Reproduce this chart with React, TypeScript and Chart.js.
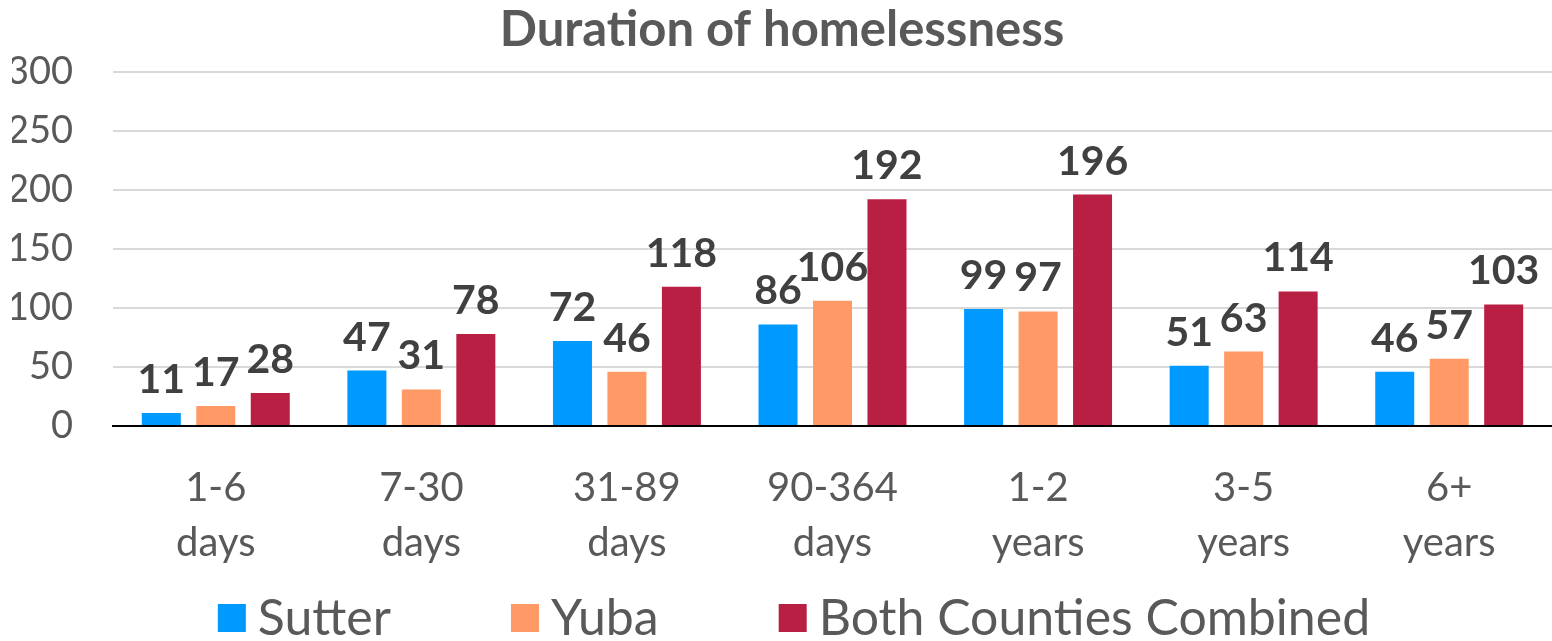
import React, { useEffect, useRef } from "react";
import { Chart, registerables } from "chart.js";

Chart.register(...registerables);

const categories: string[][] = [
  ["1-6", "days"],
  ["7-30", "days"],
  ["31-89", "days"],
  ["90-364", "days"],
  ["1-2", "years"],
  ["3-5", "years"],
  ["6+", "years"],
];
const sutter: number[] = [11, 47, 72, 86, 99, 51, 46];
const yuba: number[] = [17, 31, 46, 106, 97, 63, 57];
const combined: number[] = [28, 78, 118, 192, 196, 114, 103];
const seriesNames: string[] = ["Sutter", "Yuba", "Both Counties Combined"];
const seriesColors: string[] = ["#0099FF", "#FF9966", "#B91E43"];
const titleText = "Duration of homelessness";

const FONT = "Lato, 'Open Sans', sans-serif";

const valueLabels = {
  id: "valueLabels",
  afterDatasetsDraw(chart: any) {
    const ctx = chart.ctx;
    ctx.save();
    ctx.font = `bold 41px ${FONT}`;
    ctx.fillStyle = "#404040";
    ctx.textAlign = "center";
    ctx.textBaseline = "alphabetic";
    chart.data.datasets.forEach((ds: any, i: number) => {
      const meta = chart.getDatasetMeta(i);
      meta.data.forEach((el: any, j: number) => {
        ctx.fillText(String(ds.data[j]), el.x, el.y - 20);
      });
    });
    ctx.restore();
  },
};

// Legend drawn on the canvas, spaced like the original (wide gaps between items)
const wideLegend = {
  id: "wideLegend",
  afterDraw(chart: any) {
    const ctx = chart.ctx;
    const box = 28;
    const boxGap = 12;
    const itemGap = 120;
    ctx.save();
    ctx.font = `50px ${FONT}`;
    const items = chart.data.datasets.map((ds: any) => ({
      text: ds.label,
      color: ds.backgroundColor,
      w: ctx.measureText(ds.label).width,
    }));
    const total =
      items.reduce((s: number, it: any) => s + box + boxGap + it.w, 0) + itemGap * (items.length - 1);
    let x = chart.width / 2 + 18 - total / 2;
    const cy = chart.height - 23;
    ctx.textBaseline = "middle";
    ctx.textAlign = "left";
    items.forEach((it: any) => {
      ctx.fillStyle = it.color;
      ctx.fillRect(x, cy - box / 2, box, box);
      ctx.fillStyle = "#595959";
      ctx.fillText(it.text, x + box + boxGap, cy + 1);
      x += box + boxGap + it.w + itemGap;
    });
    ctx.restore();
  },
};

export default function App() {
  const ref = useRef<HTMLCanvasElement>(null);
  useEffect(() => {
    if (!ref.current) return;
    const chart = new Chart(ref.current, {
      type: "bar",
      data: {
        labels: categories,
        datasets: [sutter, yuba, combined].map((d, i) => ({
          label: seriesNames[i],
          data: d,
          backgroundColor: seriesColors[i],
          categoryPercentage: 0.795,
          barPercentage: 0.716,
        })),
      },
      options: {
        responsive: false,
        animation: false,
        layout: { padding: { left: 12, right: 0, top: 0, bottom: 65 } },
        plugins: {
          title: {
            display: true,
            text: titleText,
            color: "#595959",
            font: { family: FONT, size: 49, weight: "bold" },
            padding: { top: 1, bottom: 12 },
          },
          legend: { display: false },
          tooltip: { enabled: false },
        },
        scales: {
          x: {
            grid: { display: false, drawTicks: false },
            border: { display: true, color: "#000000", width: 2 },
            ticks: {
              color: "#595959",
              font: { family: FONT, size: 40, lineHeight: 1.38 },
              padding: 34,
              maxRotation: 0,
              autoSkip: false,
            },
            afterFit: (scale: any) => {
              scale.height = 150;
            },
          },
          y: {
            min: 0,
            max: 300,
            ticks: {
              stepSize: 50,
              color: "#595959",
              font: { family: FONT, size: 38 },
              padding: 40,
            },
            grid: {
              drawTicks: false,
              color: (c: any) => (c.tick && c.tick.value === 0 ? "#000000" : "#D9D9D9"),
              lineWidth: 2,
            },
            border: { display: false },
            afterFit: (scale: any) => {
              scale.width = 101;
            },
          },
        },
      },
      plugins: [valueLabels, wideLegend],
    });
    return () => chart.destroy();
  }, []);
  return (
    <div style={{ position: "absolute", left: 0, top: 0, width: 1552, height: 641, background: "#fff" }}>
      <canvas ref={ref} width={1552} height={641} />
    </div>
  );
}
